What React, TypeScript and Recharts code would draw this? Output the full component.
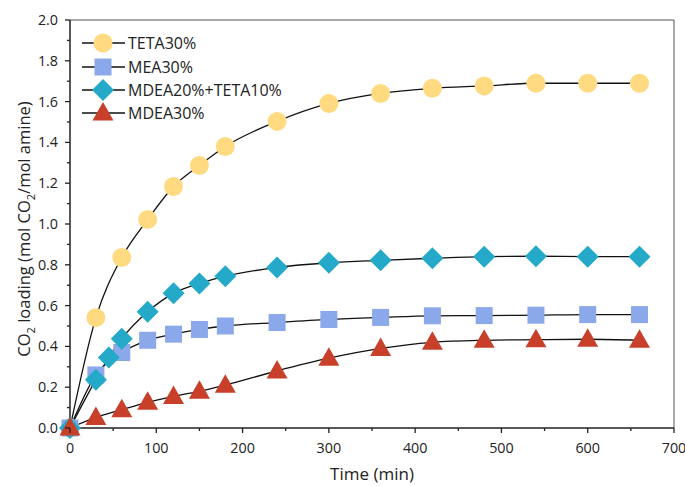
import React from "react";
import { LineChart, Line, XAxis, YAxis, Legend, ReferenceLine } from "recharts";

const tetaX = [0, 30, 60, 90, 120, 150, 180, 240, 300, 360, 420, 480, 540, 600, 660];
const tetaY = [0, 0.541, 0.836, 1.022, 1.184, 1.287, 1.38, 1.503, 1.591, 1.64, 1.665, 1.677, 1.69, 1.69, 1.69];
const meaX = [0, 30, 60, 90, 120, 150, 180, 240, 300, 360, 420, 480, 540, 600, 660];
const meaY = [0, 0.26, 0.37, 0.43, 0.46, 0.483, 0.5, 0.517, 0.532, 0.542, 0.55, 0.551, 0.553, 0.556, 0.556];
const mixX = [0, 30, 45, 60, 90, 120, 150, 180, 240, 300, 360, 420, 480, 540, 600, 660];
const mixY = [0, 0.237, 0.346, 0.438, 0.57, 0.66, 0.708, 0.744, 0.787, 0.81, 0.822, 0.832, 0.84, 0.842, 0.84, 0.84];
const mdeaX = [0, 30, 60, 90, 120, 150, 180, 240, 300, 360, 420, 480, 540, 600, 660];
const mdeaY = [0, 0.052, 0.09, 0.126, 0.155, 0.18, 0.21, 0.28, 0.342, 0.39, 0.42, 0.43, 0.433, 0.435, 0.43];

const seriesNames = ["TETA30%", "MEA30%", "MDEA20%+TETA10%", "MDEA30%"];
const seriesColors = ["#FFDA80", "#8BA8EA", "#24A9C8", "#C9402A"];
const xTicks = [0, 50, 100, 150, 200, 250, 300, 350, 400, 450, 500, 550, 600, 650, 700];
const yTicks = [0, 0.1, 0.2, 0.3, 0.4, 0.5, 0.6, 0.7, 0.8, 0.9, 1.0, 1.1, 1.2, 1.3, 1.4, 1.5, 1.6, 1.7, 1.8, 1.9, 2.0];

const toData = (xs: number[], ys: number[]) => xs.map((x, i) => ({ x, y: ys[i] }));
const tetaData = toData(tetaX, tetaY);
const meaData = toData(meaX, meaY);
const mixData = toData(mixX, mixY);
const mdeaData = toData(mdeaX, mdeaY);

const FONT = "'Open Sans', 'DejaVu Sans', sans-serif";
const AXIS = "#222";

function Marker({ kind, cx, cy }: { kind: number; cx: number; cy: number }) {
  const c = seriesColors[kind];
  if (kind === 0) return <circle cx={cx} cy={cy} r={9.5} fill={c} />;
  if (kind === 1) return <rect x={cx - 8.5} y={cy - 8.5} width={17} height={17} fill={c} />;
  if (kind === 2)
    return <polygon points={`${cx},${cy - 11} ${cx + 11},${cy} ${cx},${cy + 11} ${cx - 11},${cy}`} fill={c} />;
  return <polygon points={`${cx},${cy - 11} ${cx + 10.5},${cy + 7.5} ${cx - 10.5},${cy + 7.5}`} fill={c} />;
}

const makeDot = (kind: number) => (props: any) => {
  const { cx, cy, index } = props;
  if (cx == null || cy == null) return <g key={`d${kind}-${index}`} />;
  return (
    <g key={`d${kind}-${index}`}>
      <Marker kind={kind} cx={cx} cy={cy} />
    </g>
  );
};

const XTick = (props: any) => {
  const { x, y, payload } = props;
  const v = payload.value;
  const major = v % 100 === 0;
  return (
    <g>
      <line x1={x} y1={y} x2={x} y2={y + (major ? 5 : 3)} stroke={AXIS} strokeWidth={1.3} />
      {major && (
        <text x={x} y={y + 25} textAnchor="middle" fontSize={14.3} fill={AXIS} fontFamily={FONT}>
          {v}
        </text>
      )}
    </g>
  );
};

const YTick = (props: any) => {
  const { x, y, payload } = props;
  const v = payload.value;
  const major = Math.round(v * 10) % 2 === 0;
  return (
    <g>
      <line x1={x} y1={y} x2={x - (major ? 5 : 3)} y2={y} stroke={AXIS} strokeWidth={1.3} />
      {major && (
        <text x={x - 12} y={y + 5} textAnchor="end" fontSize={14.3} fill={AXIS} fontFamily={FONT}>
          {v.toFixed(1)}
        </text>
      )}
    </g>
  );
};

const YLabel = () => (
  <text
    x={0}
    y={0}
    transform="translate(30,229) rotate(-90)"
    textAnchor="middle"
    fontSize={16.5}
    fill={AXIS}
    fontFamily={FONT}
  >
    CO<tspan dy={4.5} fontSize={11}>2</tspan>
    <tspan dy={-4.5}> loading (mol CO</tspan>
    <tspan dy={4.5} fontSize={11}>2</tspan>
    <tspan dy={-4.5}>/mol amine)</tspan>
  </text>
);

const LegendBox = () => {
  const rows = [13, 37, 60, 83];
  return (
    <svg width={240} height={100} style={{ display: "block" }}>
      {seriesNames.map((n, i) => (
        <g key={n}>
          <line x1={4} y1={rows[i]} x2={47} y2={rows[i]} stroke="#111" strokeWidth={1.3} />
          <Marker kind={i} cx={25} cy={rows[i]} />
          <text x={50} y={rows[i] + 6} fontSize={16} fill={AXIS} fontFamily={FONT}>
            {n}
          </text>
        </g>
      ))}
    </svg>
  );
};

export default function App() {
  return (
    <div style={{ position: "absolute", left: 0, top: 0, width: 685, height: 486, background: "#fff" }}>
      <LineChart width={685} height={486} margin={{ top: 20, right: 11, bottom: 0, left: 0 }}>
        <XAxis
          type="number"
          dataKey="x"
          domain={[0, 700]}
          ticks={xTicks}
          interval={0}
          tick={<XTick />}
          tickLine={false}
          tickSize={0}
          tickMargin={0}
          height={58}
          axisLine={{ stroke: AXIS, strokeWidth: 1.5 }}
          allowDuplicatedCategory={false}
        />
        <YAxis
          type="number"
          dataKey="y"
          domain={[0, 2]}
          ticks={yTicks}
          interval={0}
          tick={<YTick />}
          tickLine={false}
          tickSize={0}
          tickMargin={0}
          width={70}
          axisLine={{ stroke: AXIS, strokeWidth: 1.5 }}
          label={<YLabel />}
        />
        <ReferenceLine y={2} stroke="#555" strokeWidth={1} />
        <ReferenceLine x={700} stroke="#555" strokeWidth={1} />
        <Line data={tetaData} dataKey="y" type="monotone" stroke="#111" strokeWidth={1.3} dot={makeDot(0)} isAnimationActive={false} name={seriesNames[0]} />
        <Line data={meaData} dataKey="y" type="monotone" stroke="#111" strokeWidth={1.3} dot={makeDot(1)} isAnimationActive={false} name={seriesNames[1]} />
        <Line data={mixData} dataKey="y" type="monotone" stroke="#111" strokeWidth={1.3} dot={makeDot(2)} isAnimationActive={false} name={seriesNames[2]} />
        <Line data={mdeaData} dataKey="y" type="monotone" stroke="#111" strokeWidth={1.3} dot={makeDot(3)} isAnimationActive={false} name={seriesNames[3]} />
        <Legend
          layout="vertical"
          align="center"
          verticalAlign="middle"
          content={() => <LegendBox />}
          wrapperStyle={{ position: "absolute", left: 78, top: 30, width: 240, height: 100 }}
        />
        <text x={372} y={480} textAnchor="middle" fontSize={17} fill={AXIS} fontFamily={FONT}>
          Time (min)
        </text>
      </LineChart>
    </div>
  );
}
